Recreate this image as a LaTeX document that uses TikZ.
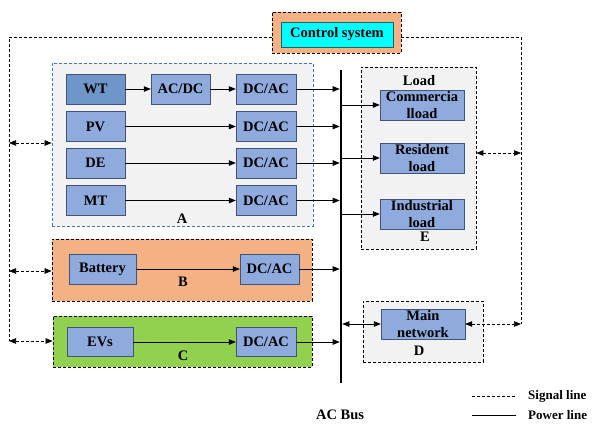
\documentclass[tikz,border=0pt]{standalone}
\usepackage{fontspec}
\setmainfont{Liberation Serif}
\usepackage{xcolor}
\usepackage{tikz}
\usetikzlibrary{positioning,arrows.meta}

\definecolor{unitblue}{RGB}{143,170,220}
\definecolor{unitdark}{RGB}{110,150,200}
\definecolor{unitedge}{RGB}{65,85,120}
\definecolor{groupgrey}{RGB}{242,242,242}
\definecolor{groupedge}{RGB}{68,114,196}
\definecolor{storeorange}{RGB}{244,177,131}
\definecolor{evgreen}{RGB}{146,208,80}
\definecolor{ctrlcyan}{RGB}{0,255,255}
\definecolor{ctrledge}{RGB}{30,100,100}

\begin{document}
\begin{tikzpicture}[
    x=1pt, y=-1pt,
    unit/.style={rectangle, draw=unitedge, fill=unitblue, minimum width=59pt, minimum height=30pt, inner sep=0pt, align=center, font=\fontsize{14.5}{17}\selectfont\bfseries},
    group/.style={rectangle, draw, line width=0.8pt, dash pattern=on 3pt off 2pt},
    tag/.style={font=\fontsize{14.5}{17}\selectfont\bfseries, inner sep=0pt},
    power/.style={-{Triangle[length=7pt,width=5.5pt]}, semithick},
    signal/.style={{Triangle[length=7pt,width=5.5pt]}-{Triangle[length=7pt,width=5.5pt]}, semithick, dash pattern=on 3pt off 2pt},
    sigline/.style={semithick, dash pattern=on 3pt off 2pt}
]
\useasboundingbox (0,0) rectangle (594,424);

% group boxes
\node[group, fill=groupgrey, draw=groupedge, minimum width=261pt, minimum height=163pt] (A) at (182.5,144.5) {};
\node[group, fill=storeorange, minimum width=260pt, minimum height=62pt] (B) at (182,270) {};
\node[group, fill=evgreen, minimum width=259pt, minimum height=51pt] (C) at (182.5,341.5) {};
\node[group, fill=groupgrey, minimum width=115pt, minimum height=182pt] (E) at (418.5,158) {};
\node[group, fill=groupgrey, minimum width=120pt, minimum height=61pt] (D) at (423,331.5) {};
\node[group, fill=storeorange, minimum width=129pt, minimum height=41pt] (ctrl) at (336.5,32.5) {};

\node[tag] at (182,219) {A};
\node[tag] at (183,282) {B};
\node[tag] at (183,356) {C};
\node[tag] at (425,237) {E};
\node[tag] at (419,351) {D};
\node[tag] at (419,81) {Load};

% control system
\node[unit, fill=ctrlcyan, draw=ctrledge, minimum width=112pt, minimum height=25pt] (Control) at (337,34.5) {Control system};

% sources
\node[unit, fill=unitdark] (WT) at (95.5,89) {WT};
\node[unit] (ACDC) at (180.5,89) {AC/DC};
\node[unit, minimum width=60pt] (DCAC1) at (266,89) {DC/AC};
\node[unit] (PV) at (95.5,126.5) {PV};
\node[unit, minimum width=60pt] (DCAC2) at (266,126.5) {DC/AC};
\node[unit] (DE) at (95.5,163) {DE};
\node[unit, minimum width=60pt] (DCAC3) at (266,163) {DC/AC};
\node[unit] (MT) at (95.5,200.5) {MT};
\node[unit, minimum width=60pt] (DCAC4) at (266,200.5) {DC/AC};

\node[unit, minimum width=67pt] (Battery) at (102.5,269) {Battery};
\node[unit] (DCAC5) at (269.5,269) {DC/AC};
\node[unit, minimum width=66pt, minimum height=29pt] (EVs) at (100,342) {EVs};
\node[unit, minimum width=60pt, minimum height=29pt] (DCAC6) at (266,342) {DC/AC};

% loads and main network
\node[unit, minimum width=84pt] (Commercial) at (422,105) {Commercia\\lload};
\node[unit, minimum width=84pt] (Resident) at (422,158) {Resident\\load};
\node[unit, minimum width=84pt] (Industrial) at (422,214) {Industrial\\load};
\node[unit, minimum width=84pt] (Main) at (423,324) {Main\\network};

% AC bus
\coordinate (bustop) at (341,70);
\coordinate (busbot) at (341,383);
\draw[line width=2.6pt] (bustop) -- (busbot);

\draw[power] (WT) -- (ACDC);
\draw[power] (ACDC) -- (DCAC1);
\draw[power] (PV) -- (DCAC2);
\draw[power] (DE) -- (DCAC3);
\draw[power] (MT) -- (DCAC4);
\draw[power] (Battery) -- (DCAC5);
\draw[power] (EVs) -- (DCAC6);
\foreach \n in {DCAC1,DCAC2,DCAC3,DCAC4,DCAC5,DCAC6}
    \draw[power, shorten >=1.3pt] (\n.east) -- (\n.east -| bustop);
\foreach \n in {Commercial,Resident,Industrial}
    \draw[power, shorten <=1.3pt] (\n.west -| bustop) -- (\n.west);
\draw[{Triangle[length=7pt,width=5.5pt]}-{Triangle[length=7pt,width=5.5pt]}, semithick, shorten <=1.3pt] (Main.west -| bustop) -- (Main.west);

% signal lines
\coordinate (LT) at (9,37);
\coordinate (LB) at (9,341);
\coordinate (RT) at (521,37);
\coordinate (RB) at (521,324);
\draw[sigline] (ctrl.west |- LT) -- (LT) -- (LB);
\draw[sigline] (ctrl.east |- RT) -- (RT) -- (RB);
\coordinate (la) at (9,143);
\coordinate (lb) at (9,271);
\coordinate (re) at (521,153);
\draw[signal] (la) -- (la -| A.west);
\draw[signal] (lb) -- (lb -| B.west);
\draw[signal] (LB) -- (LB -| C.west);
\draw[signal] (re -| E.east) -- (re);
\draw[signal] (Main.east) -- (RB);

% legend
\node[tag] (busname) at (340,415) {AC Bus};
\coordinate (sigA) at (472,396);
\coordinate (sigB) at (516,396);
\coordinate (powA) at (472,415);
\coordinate (powB) at (516,415);
\draw[sigline] (sigA) -- (sigB);
\draw[semithick] (powA) -- (powB);
\node[tag, font=\fontsize{13}{15}\selectfont\bfseries, anchor=west] (sigtxt) at (528,396) {Signal line};
\node[tag, font=\fontsize{13}{15}\selectfont\bfseries, anchor=west] (powtxt) at (528,415) {Power line};

\end{tikzpicture}
\end{document}
